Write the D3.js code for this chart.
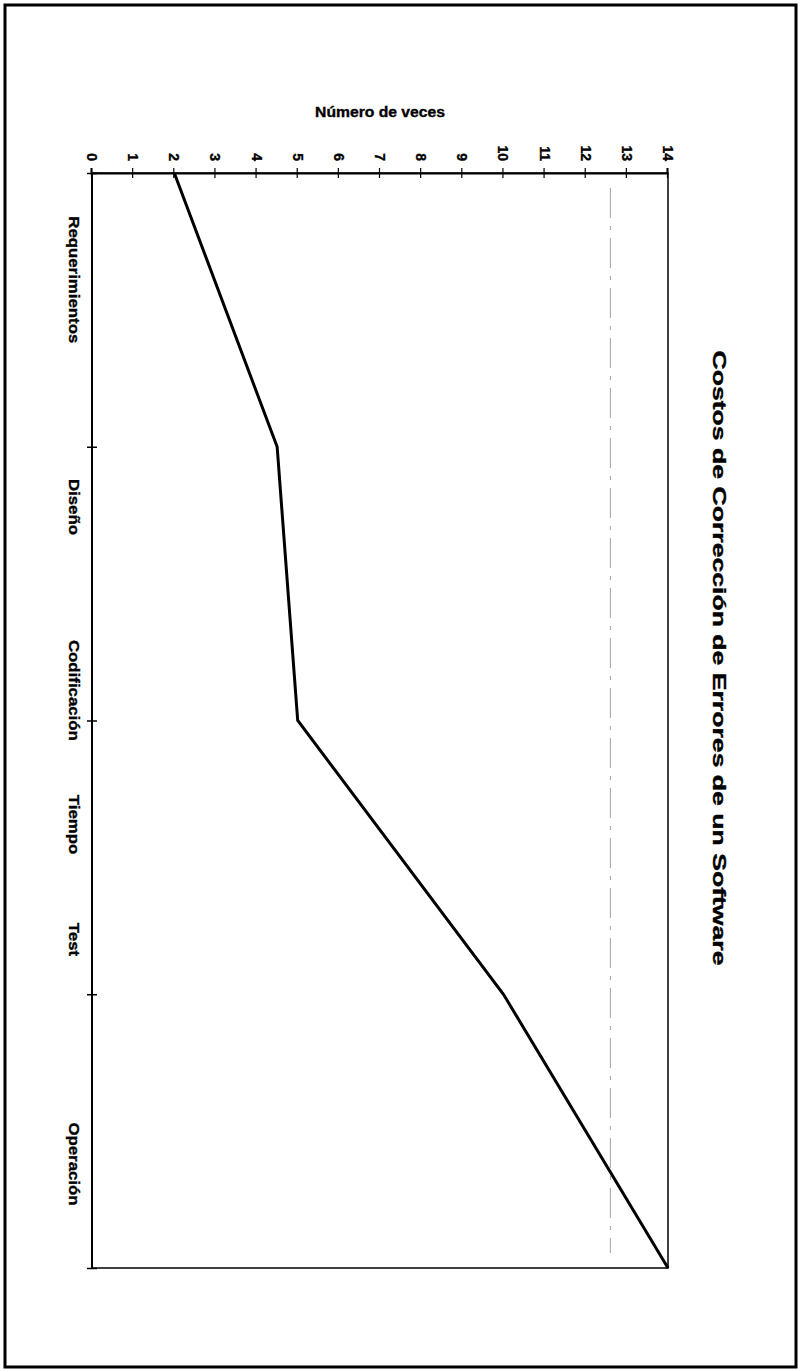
<!DOCTYPE html>
<html>
<head>
<meta charset="utf-8">
<script src="https://cdn.jsdelivr.net/npm/d3@7"></script>
<style>
  body { margin: 0; background: #fff; }
  text { font-family: "Liberation Sans", Arial, sans-serif; font-weight: bold; fill: #000; stroke: #000; stroke-width: 0.35px; }
</style>
</head>
<body>
<svg id="chart"></svg>
<script>
// data
const fases = ['Requerimientos', 'Diseño', 'Codificación', 'Test', 'Operación'];
const veces = [2, 4.5, 5, 10, 14];
const yTicks = [0, 1, 2, 3, 4, 5, 6, 7, 8, 9, 10, 11, 12, 13, 14];
// where each phase label sits along the time axis (in phase-index units)
const faseLabelAt = [0.39, 1.22, 1.89, 2.8, 3.62];
const tiempoAt = 2.38;
const refLine = [12.6]; // faint dashed line left over in the scan

const W = 799, H = 1370;
const stretch = 1.12; // the scan is a little stretched along the text direction

const svg = d3.select('#chart')
  .attr('width', W)
  .attr('height', H);

// outer frame of the page
svg.append('rect')
  .attr('x', 5).attr('y', 5)
  .attr('width', 791).attr('height', 1362)
  .attr('fill', 'none')
  .attr('stroke', '#000')
  .attr('stroke-width', 3);

// the chart is drawn upright then turned 90deg clockwise, like the scan
const g = svg.append('g')
  .attr('transform', `translate(${W},0) rotate(90)`);

const plotL = 173, plotR = 1268, plotT = 131, plotB = 707;

const x = d3.scalePoint().domain(fases).range([plotL, plotR]);
const xi = d3.scaleLinear().domain([0, fases.length - 1]).range([plotL, plotR]);
const y = d3.scaleLinear().domain([0, 14]).range([plotB, plotT]);

// plot frame
g.append('rect')
  .attr('x', plotL).attr('y', plotT)
  .attr('width', plotR - plotL).attr('height', plotB - plotT)
  .attr('fill', 'none')
  .attr('stroke', '#000')
  .attr('stroke-width', 1.5);

g.append('line')
  .attr('x1', plotL).attr('x2', plotR)
  .attr('y1', plotB).attr('y2', plotB)
  .attr('stroke', '#000')
  .attr('stroke-width', 2);

// faint dashed line
g.selectAll('.ref')
  .data(refLine)
  .enter().append('line')
  .attr('class', 'ref')
  .attr('x1', plotL + 15).attr('x2', plotR - 15)
  .attr('y1', d => y(d)).attr('y2', d => y(d))
  .attr('stroke', '#999')
  .attr('stroke-width', 0.9)
  .attr('stroke-dasharray', '30 8 4 8');

// value axis (crossing ticks)
const yAxis = g.append('g')
  .attr('transform', `translate(${plotL},0)`)
  .call(d3.axisLeft(y).tickValues(yTicks).tickSize(5).tickFormat(d3.format('d')));
yAxis.select('.domain').attr('stroke-width', 2);
yAxis.selectAll('.tick line').attr('x1', -5).attr('x2', 5).attr('stroke-width', 1.2);
yAxis.selectAll('.tick text')
  .attr('x', -12)
  .attr('font-size', 14)
  .attr('font-family', '"Liberation Sans", Arial, sans-serif')
  .attr('font-weight', 'bold');

// category axis, ticks only
const xAxis = g.append('g')
  .attr('transform', `translate(0,${plotB})`)
  .call(d3.axisBottom(x).tickSize(5).tickFormat(''));
xAxis.select('.domain').remove();
xAxis.selectAll('.tick line').attr('y1', -5).attr('y2', 5).attr('stroke-width', 1.5);

// phase labels
g.selectAll('.fase')
  .data(fases)
  .enter().append('text')
  .attr('class', 'fase stretch')
  .attr('x', (d, i) => xi(faseLabelAt[i]))
  .attr('y', plotB + 23)
  .attr('text-anchor', 'middle')
  .attr('font-size', 15)
  .text(d => d);

// axis titles
g.append('text')
  .attr('class', 'stretch')
  .attr('x', xi(tiempoAt))
  .attr('y', plotB + 23)
  .attr('text-anchor', 'middle')
  .attr('font-size', 15)
  .text('Tiempo');

g.append('text')
  .attr('class', 'stretch')
  .attr('transform', `translate(${plotL - 56},${(plotT + plotB) / 2}) rotate(-90)`)
  .attr('text-anchor', 'middle')
  .attr('font-size', 14)
  .text('Número de veces');

g.selectAll('text.stretch').each(function() {
  const len = this.getComputedTextLength();
  d3.select(this)
    .attr('textLength', len * stretch)
    .attr('lengthAdjust', 'spacingAndGlyphs');
});

// chart title
g.append('text')
  .attr('x', 658)
  .attr('y', 86)
  .attr('text-anchor', 'middle')
  .attr('font-size', 19)
  .attr('textLength', 615)
  .attr('lengthAdjust', 'spacingAndGlyphs')
  .text('Costos de Corrección de Errores de un Software');

// the cost line
const line = d3.line()
  .x((d, i) => x(fases[i]))
  .y(d => y(d));

g.append('path')
  .datum(veces)
  .attr('d', line)
  .attr('fill', 'none')
  .attr('stroke', '#000')
  .attr('stroke-width', 3)
  .attr('stroke-linejoin', 'miter');
</script>
</body>
</html>
